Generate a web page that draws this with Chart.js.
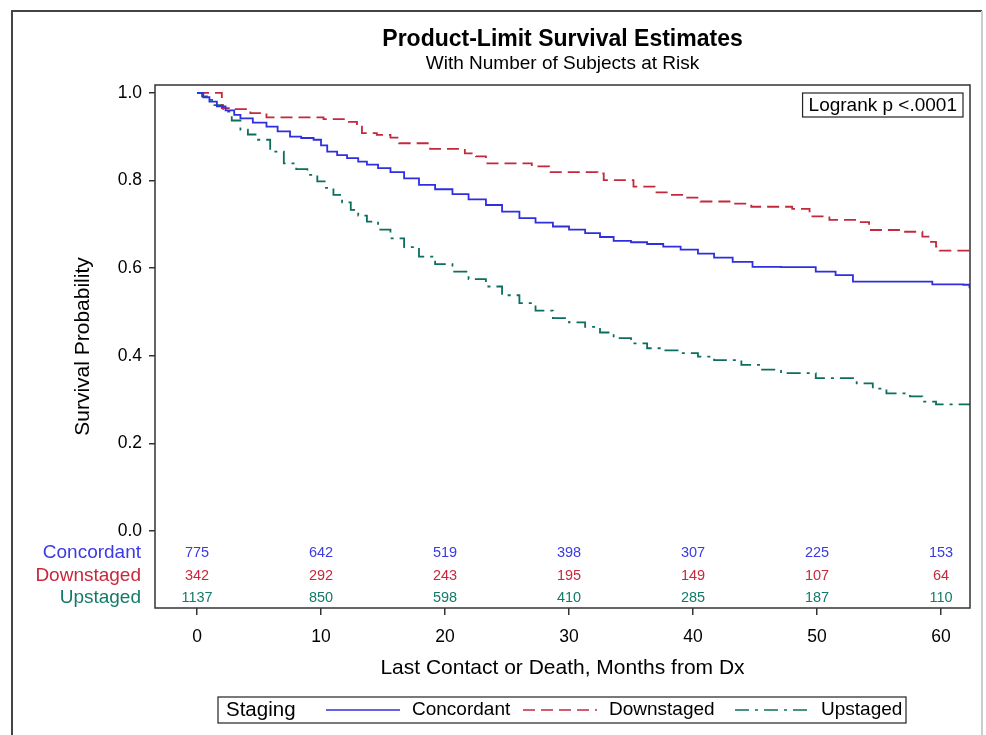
<!DOCTYPE html>
<html>
<head>
<meta charset="utf-8">
<script src="https://cdn.jsdelivr.net/npm/chart.js@4"></script>
<style>
  html, body { margin: 0; padding: 0; background: #fff; }
  #wrap { width: 986px; height: 735px; position: relative; }
</style>
</head>
<body>
<div id="wrap"><canvas id="km" width="986" height="735"></canvas></div>
<script>
const groupNames = ["Concordant", "Downstaged", "Upstaged"];
const lineColors = ["#2f2fe0", "#c3283c", "#0b6e5e"];
const textColors = ["#3a3ae6", "#c8283c", "#137a68"];

const concordantTime = [0, 0.5, 1.0, 1.6, 2.3, 3.0, 3.5, 4.5, 5.6, 6.5, 7.5, 8.4, 9.4, 10.0, 10.5, 11.3, 12.1, 13.0, 13.7, 14.6, 15.6, 16.7, 17.9, 19.2, 20.6, 21.9, 23.3, 24.6, 26.0, 27.3, 28.7, 30.0, 31.3, 32.5, 33.6, 35.0, 36.3, 37.6, 39.0, 40.4, 41.7, 43.2, 44.8, 47.1, 49.9, 51.5, 52.9, 59.3, 61.8, 62.3];
const concordantSurv = [1.0, 0.99, 0.98, 0.969, 0.96, 0.95, 0.942, 0.932, 0.923, 0.912, 0.900, 0.897, 0.893, 0.880, 0.866, 0.858, 0.851, 0.843, 0.836, 0.828, 0.819, 0.805, 0.790, 0.780, 0.769, 0.757, 0.744, 0.729, 0.714, 0.704, 0.695, 0.688, 0.680, 0.671, 0.662, 0.659, 0.655, 0.649, 0.642, 0.633, 0.624, 0.614, 0.603, 0.602, 0.592, 0.584, 0.569, 0.563, 0.562, 0.554];

const downTime = [0, 2.0, 2.7, 4.3, 5.6, 10.2, 12.1, 12.9, 13.3, 14.5, 15.6, 16.3, 18.8, 21.6, 22.5, 23.3, 27.0, 28.4, 32.3, 32.8, 35.2, 36.9, 38.2, 39.3, 40.6, 43.1, 44.7, 48.0, 49.4, 51.0, 53.2, 54.2, 56.9, 58.5, 59.1, 59.6, 59.9, 62.34];
const downSurv = [1.0, 0.965, 0.963, 0.954, 0.944, 0.940, 0.934, 0.923, 0.908, 0.904, 0.898, 0.885, 0.872, 0.862, 0.855, 0.839, 0.832, 0.819, 0.816, 0.801, 0.786, 0.773, 0.767, 0.761, 0.752, 0.747, 0.740, 0.735, 0.718, 0.710, 0.705, 0.687, 0.683, 0.672, 0.660, 0.649, 0.640, 0.640];

const upTime = [0, 0.4, 0.8, 1.4, 2.1, 2.8, 3.5, 4.1, 4.8, 5.9, 7.0, 8.0, 8.9, 9.7, 10.4, 11.0, 11.7, 12.4, 13.0, 13.7, 14.6, 15.6, 16.7, 17.9, 19.2, 20.6, 21.9, 23.3, 24.6, 26.0, 27.3, 28.7, 30.0, 31.3, 32.5, 33.6, 35.0, 36.3, 37.6, 39.0, 40.4, 41.7, 43.9, 45.5, 47.1, 49.9, 53.2, 54.5, 55.6, 57.5, 58.5, 59.6, 62.34];
const upSurv = [1.0, 0.992, 0.984, 0.972, 0.957, 0.937, 0.916, 0.905, 0.893, 0.866, 0.839, 0.826, 0.813, 0.798, 0.783, 0.767, 0.750, 0.733, 0.720, 0.706, 0.688, 0.668, 0.648, 0.626, 0.609, 0.592, 0.575, 0.558, 0.538, 0.520, 0.503, 0.486, 0.476, 0.466, 0.453, 0.440, 0.428, 0.417, 0.412, 0.406, 0.398, 0.390, 0.379, 0.368, 0.360, 0.349, 0.337, 0.325, 0.314, 0.307, 0.295, 0.289, 0.288];

const riskTimes = [0, 10, 20, 30, 40, 50, 60];
const concordantRisk = [775, 642, 519, 398, 307, 225, 153];
const downRisk = [342, 292, 243, 195, 149, 107, 64];
const upRisk = [1137, 850, 598, 410, 285, 187, 110];

const yTicks = [0, 0.2, 0.4, 0.6, 0.8, 1.0];
const xTicks = [0, 10, 20, 30, 40, 50, 60];

const FONT = "Arial, 'Liberation Sans', sans-serif";
const toPoints = (t, s) => t.map((v, i) => ({ x: v, y: s[i] }));
const dashes = [[], [12, 6], [14, 6, 3, 6]];

const pages = {
  id: "pagebits",
  beforeDraw(chart) {
    const ctx = chart.ctx;
    ctx.save();
    ctx.fillStyle = "#fff";
    ctx.fillRect(0, 0, chart.width, chart.height);
    // outer frame
    ctx.strokeStyle = "#444";
    ctx.lineWidth = 2;
    ctx.beginPath();
    ctx.moveTo(12, chart.height);
    ctx.lineTo(12, 11);
    ctx.lineTo(982, 11);
    ctx.stroke();
    ctx.strokeStyle = "#ccc";
    ctx.beginPath();
    ctx.moveTo(982, 11);
    ctx.lineTo(982, chart.height);
    ctx.stroke();
    ctx.restore();
  },
  afterDraw(chart) {
    const ctx = chart.ctx;
    const a = chart.chartArea;
    const xs = chart.scales.x;
    const cx = (a.left + a.right) / 2;
    ctx.save();
    // plot frame
    ctx.strokeStyle = "#333";
    ctx.lineWidth = 1.5;
    ctx.strokeRect(a.left, a.top, a.right - a.left, a.bottom - a.top);

    // titles
    ctx.fillStyle = "#000";
    ctx.textAlign = "center";
    ctx.textBaseline = "middle";
    ctx.font = "bold 23px " + FONT;
    ctx.fillText("Product-Limit Survival Estimates", cx, 40);
    ctx.font = "19px " + FONT;
    ctx.fillText("With Number of Subjects at Risk", cx, 64);

    // logrank box
    ctx.font = "19px " + FONT;
    const lt = "Logrank p <.0001";
    const lw = ctx.measureText(lt).width;
    const bx = a.right - 7 - lw - 12;
    ctx.strokeStyle = "#222";
    ctx.lineWidth = 1.2;
    ctx.strokeRect(bx, a.top + 8, lw + 12, 24);
    ctx.textAlign = "left";
    ctx.fillText(lt, bx + 6, a.top + 21);

    // at-risk table
    const rows = [concordantRisk, downRisk, upRisk];
    const rowY = [a.bottom - 55, a.bottom - 32, a.bottom - 10];
    rows.forEach((r, k) => {
      ctx.fillStyle = textColors[k];
      ctx.font = "19px " + FONT;
      ctx.textAlign = "right";
      ctx.fillText(groupNames[k], a.left - 14, rowY[k]);
      ctx.font = "14.5px " + FONT;
      ctx.textAlign = "center";
      r.forEach((n, i) => ctx.fillText(String(n), xs.getPixelForValue(riskTimes[i]), rowY[k]));
    });

    // legend
    const ly = 710;
    ctx.strokeStyle = "#222";
    ctx.lineWidth = 1.2;
    ctx.strokeRect(218, 697, 688, 26);
    ctx.fillStyle = "#000";
    ctx.textAlign = "left";
    ctx.font = "20.5px " + FONT;
    ctx.fillText("Staging", 226, ly);
    const starts = [326, 523, 735];
    ctx.font = "19px " + FONT;
    chart.data.datasets.forEach((ds, k) => {
      ctx.strokeStyle = ds.borderColor;
      ctx.lineWidth = 1.5;
      ctx.setLineDash(ds.borderDash);
      ctx.beginPath();
      ctx.moveTo(starts[k], ly);
      ctx.lineTo(starts[k] + 74, ly);
      ctx.stroke();
      ctx.setLineDash([]);
      ctx.fillStyle = "#000";
      ctx.fillText(ds.label, starts[k] + 86, ly);
    });
    ctx.restore();
  }
};

new Chart(document.getElementById("km"), {
  type: "line",
  data: {
    datasets: [
      { label: groupNames[0], data: toPoints(concordantTime, concordantSurv) },
      { label: groupNames[1], data: toPoints(downTime, downSurv) },
      { label: groupNames[2], data: toPoints(upTime, upSurv) },
    ].map((d, k) => Object.assign(d, {
      borderColor: lineColors[k],
      borderWidth: 1.8,
      borderDash: dashes[k],
      stepped: true,
      pointRadius: 0,
      fill: false,
    })),
  },
  options: {
    responsive: false,
    animation: false,
    layout: { padding: { left: 60, top: 85, right: 16, bottom: 0 } },
    plugins: { legend: { display: false }, tooltip: { enabled: false } },
    scales: {
      x: {
        type: "linear",
        min: -3.39,
        max: 62.34,
        afterBuildTicks: (s) => { s.ticks = xTicks.map((v) => ({ value: v })); },
        afterFit: (s) => { s.height = 127; },
        border: { display: false },
        grid: { drawOnChartArea: false, drawTicks: true, tickLength: 7, color: "#333", lineWidth: 1.5 },
        ticks: { color: "#000", font: { family: FONT, size: 17.5 }, padding: 12, maxRotation: 0 },
        title: {
          display: true,
          text: "Last Contact or Death, Months from Dx",
          color: "#000",
          font: { family: FONT, size: 21 },
          padding: { top: 0, bottom: 54 },
        },
      },
      y: {
        type: "linear",
        min: -0.176,
        max: 1.018,
        afterBuildTicks: (s) => { s.ticks = yTicks.map((v) => ({ value: v })); },
        afterFit: (s) => { s.width = 95; },
        border: { display: false },
        grid: { drawOnChartArea: false, drawTicks: true, tickLength: 6, color: "#333", lineWidth: 1.5 },
        ticks: { color: "#000", font: { family: FONT, size: 17.5 }, padding: 7, callback: (v) => v.toFixed(1) },
        title: {
          display: true,
          text: "Survival Probability",
          color: "#000",
          font: { family: FONT, size: 21 },
          padding: { top: 11, bottom: 0 },
        },
      },
    },
  },
  plugins: [pages],
});
</script>
</body>
</html>
